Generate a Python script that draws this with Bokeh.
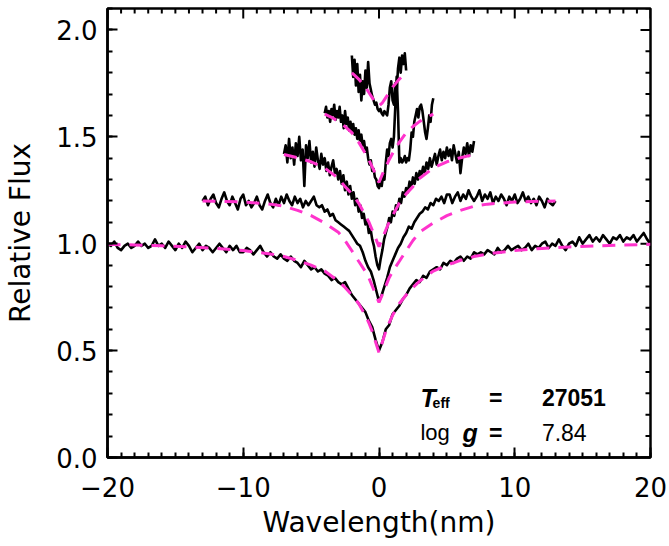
import numpy as np
from bokeh.plotting import figure
from bokeh.models import Range1d, Label, SingleIntervalTicker, PrintfTickFormatter
from bokeh.embed import file_html
from bokeh.resources import INLINE

# ---------------- data ----------------
# Observed spectra (relative flux, offsets included), uniform wavelength grids
s1_start, s1_stop = -20.0, 20.0
s1_flux = [
    1.00, 0.99, 1.01, 0.98, 0.97, 0.99, 1.00, 0.98,
    0.99, 1.01, 0.99, 1.00, 0.98, 0.99, 1.02, 0.99,
    1.00, 0.98, 1.01, 0.99, 0.97, 1.00, 0.98, 1.01,
    0.99, 0.96, 0.98, 1.00, 0.97, 0.99, 0.98, 0.96,
    0.98, 1.00, 0.98, 0.96, 0.99, 0.97, 0.99, 0.96,
    0.96, 0.98, 0.97, 0.95, 0.97, 0.99, 0.96, 0.94,
    0.96, 0.94, 0.93, 0.95, 0.93, 0.92, 0.94, 0.92,
    0.91, 0.89, 0.92, 0.90, 0.88, 0.89, 0.87, 0.88,
    0.86, 0.85, 0.83, 0.84, 0.82, 0.81, 0.82, 0.79,
    0.76, 0.74, 0.72, 0.70, 0.68, 0.64, 0.61, 0.55,
    0.50,
    0.54, 0.60, 0.62, 0.67, 0.69, 0.71, 0.74, 0.76,
    0.79, 0.81, 0.83, 0.82, 0.85, 0.84, 0.87, 0.88,
    0.89, 0.88, 0.91, 0.90, 0.92, 0.91, 0.93, 0.94,
    0.92, 0.94, 0.93, 0.96, 0.95, 0.96, 0.95, 0.97,
    0.96, 0.95, 0.98, 0.96, 0.97, 0.99, 0.97, 0.98,
    0.99, 0.97, 0.98, 1.00, 0.97, 0.99, 0.98, 1.00,
    1.01, 0.98, 1.00, 0.99, 1.02, 0.99, 0.97, 1.00,
    1.01, 0.99, 1.03, 1.00, 1.02, 1.04, 1.01, 1.03,
    1.01, 1.04, 1.02, 1.00, 1.03, 1.02, 1.04, 1.01,
    1.03, 1.02, 1.04, 1.01, 1.03, 1.05, 1.02, 1.00,
]

s2_start, s2_stop = -13.0, 13.0
s2_flux = [
    1.20, 1.22, 1.18, 1.21, 1.23, 1.19, 1.17, 1.21, 1.24, 1.20,
    1.18, 1.22, 1.19, 1.16, 1.21, 1.23, 1.18, 1.20, 1.17, 1.19,
    1.22, 1.18, 1.16, 1.20, 1.23, 1.19, 1.17, 1.21, 1.18, 1.22,
    1.19, 1.23, 1.20, 1.18, 1.22, 1.19, 1.21, 1.17, 1.20, 1.18,
    1.20, 1.22, 1.18, 1.17, 1.18, 1.15, 1.16, 1.13, 1.14, 1.11,
    1.10, 1.09, 1.08, 1.07, 1.06, 1.04, 1.02, 1.00, 0.99, 0.96,
    0.92, 0.89, 0.87, 0.83, 0.78,
    0.73,
    0.76, 0.80, 0.84, 0.89, 0.92,
    0.95, 0.98, 1.00, 1.03, 1.05, 1.08, 1.07, 1.10, 1.12, 1.14,
    1.15, 1.17, 1.16, 1.19, 1.18, 1.21, 1.20, 1.22, 1.19, 1.23,
    1.23, 1.19, 1.22, 1.24, 1.20, 1.23, 1.21, 1.25, 1.22, 1.20,
    1.22, 1.25, 1.20, 1.23, 1.21, 1.24, 1.19, 1.22, 1.20, 1.23,
    1.21, 1.18, 1.22, 1.20, 1.23, 1.19, 1.21, 1.24, 1.20, 1.22,
    1.19, 1.21, 1.18, 1.22, 1.20, 1.17, 1.21, 1.19, 1.18, 1.20,
]

s3_start, s3_stop = -7.0, 7.0
s3_flux = [
    1.42, 1.46, 1.38, 1.49, 1.40, 1.45, 1.37, 1.47,
    1.41, 1.50, 1.39, 1.44, 1.27, 1.46, 1.40, 1.48,
    1.38, 1.43, 1.36, 1.45, 1.39, 1.35, 1.42, 1.37,
    1.40, 1.34, 1.38, 1.32, 1.36, 1.39, 1.33, 1.35,
    1.30, 1.34, 1.28, 1.32, 1.25, 1.29, 1.23, 1.27,
    1.21, 1.24, 1.18, 1.21, 1.15, 1.18, 1.12, 1.14,
    1.09, 1.11, 1.05, 1.07, 1.02, 0.99, 0.94, 0.90,
    0.88,
    0.93, 0.97, 1.02, 1.05, 1.08, 1.12, 1.10, 1.15,
    1.13, 1.18, 1.16, 1.21, 1.19, 1.24, 1.22, 1.26,
    1.24, 1.29, 1.26, 1.31, 1.28, 1.33, 1.30, 1.34,
    1.32, 1.36, 1.33, 1.38, 1.35, 1.40, 1.36, 1.39,
    1.42, 1.37, 1.41, 1.44, 1.39, 1.43, 1.40, 1.45,
    1.41, 1.44, 1.39, 1.46, 1.42, 1.38, 1.43, 1.33,
    1.40, 1.45, 1.42, 1.47, 1.41, 1.46, 1.43, 1.48,
]

s4_start, s4_stop = -4.0, 4.0
s4_flux = [
    1.61, 1.64, 1.59, 1.62, 1.57, 1.63, 1.60, 1.65, 1.58, 1.62,
    1.59, 1.64, 1.57, 1.60, 1.54, 1.62, 1.56, 1.59, 1.53, 1.57,
    1.52, 1.56, 1.51, 1.54, 1.49, 1.53, 1.48, 1.51, 1.46, 1.48,
    1.43, 1.45, 1.40, 1.37, 1.39, 1.34, 1.35, 1.31, 1.30, 1.27,
    1.26,
    1.29, 1.27, 1.32, 1.30, 1.38, 1.44, 1.41, 1.47, 1.49, 1.45,
    1.50, 1.64, 1.78, 1.62, 1.38, 1.40, 1.38, 1.39, 1.41, 1.38,
    1.40, 1.39, 1.44, 1.52, 1.50, 1.57, 1.60, 1.63, 1.59, 1.64,
    1.65, 1.62, 1.57, 1.52, 1.49, 1.54, 1.60, 1.57, 1.65, 1.68,
]

s5_start, s5_stop = -2.0, 2.0
s5_flux = [
    1.88, 1.78, 1.86, 1.74, 1.84, 1.71, 1.79, 1.67, 1.76, 1.70,
    1.81, 1.73, 1.85, 1.75, 1.72, 1.69, 1.67, 1.65, 1.66, 1.63,
    1.62,
    1.63, 1.61, 1.60, 1.62, 1.61, 1.60, 1.65, 1.73, 1.76, 1.67,
    1.65, 1.75, 1.71, 1.82, 1.87, 1.80, 1.88, 1.84, 1.89, 1.81,
]

# Model fits (symmetric profiles): distance from line centre and flux
m1_dx = [0, 0.25, 0.5, 0.75, 1, 1.5, 2, 2.5, 3, 4, 5, 6, 7, 8, 10, 12, 14, 16, 18, 20]
m1_f = [0.49, 0.54, 0.59, 0.63, 0.665, 0.72, 0.76, 0.795, 0.825, 0.872, 0.90, 0.922,
        0.94, 0.952, 0.968, 0.978, 0.985, 0.99, 0.994, 0.997]
m2_dx = [0, 0.25, 0.5, 0.75, 1, 1.5, 2, 2.5, 3, 4, 5, 6, 7, 8, 10, 13]
m2_f = [0.725, 0.763, 0.802, 0.841, 0.87, 0.918, 0.967, 1.015, 1.054, 1.097, 1.131,
        1.156, 1.175, 1.185, 1.195, 1.20]
m3_dx = [0, 0.25, 0.5, 0.75, 1, 1.5, 2, 2.5, 3, 4, 5, 6, 7]
m3_f = [0.986, 1.025, 1.064, 1.102, 1.131, 1.19, 1.233, 1.267, 1.306, 1.354, 1.383,
        1.402, 1.417]
m4_dx = [0, 0.25, 0.5, 0.75, 1, 1.5, 2, 2.5, 3, 3.5, 4]
m4_f = [1.286, 1.325, 1.359, 1.393, 1.422, 1.475, 1.519, 1.548, 1.572, 1.591, 1.606]
m5_dx = [0, 0.25, 0.5, 0.75, 1, 1.25, 1.5, 1.75, 2]
m5_f = [1.645, 1.659, 1.683, 1.707, 1.732, 1.751, 1.77, 1.785, 1.799]

teff_text = "27051"
logg_text = "7.84"

x_lim = (-20.0, 20.0)
y_lim = (0.0, 2.1)
x_major_step, x_minor_step = 10.0, 1.0
y_major_step, y_minor_step = 0.5, 0.1

# ---------------- figure ----------------
W, H = 669, 546
ML, MR, MT, MB = 107, 19, 8, 89
p = figure(width=W, height=H, output_backend="svg", toolbar_location=None,
           x_range=Range1d(*x_lim), y_range=Range1d(*y_lim),
           min_border_left=ML, min_border_right=MR, min_border_top=MT,
           min_border_bottom=MB)
p.background_fill_color = "white"
p.border_fill_color = "white"
p.outline_line_color = "black"
p.outline_line_width = 2.5
p.xgrid.visible = False
p.ygrid.visible = False

FONT = "DejaVu Sans"
MAJ_LEN, MIN_LEN = 10, 5

for ax in (p.xaxis[0], p.yaxis[0]):
    ax.axis_line_color = "black"
    ax.axis_line_width = 2.5
    ax.major_tick_in = MAJ_LEN
    ax.major_tick_out = 0
    ax.minor_tick_in = MIN_LEN
    ax.minor_tick_out = 0
    ax.major_tick_line_width = 2
    ax.minor_tick_line_width = 2
    ax.major_tick_line_color = "black"
    ax.minor_tick_line_color = "black"
    ax.major_label_text_font = FONT
    ax.major_label_text_font_size = "26px"
    ax.major_label_text_color = "black"
    ax.axis_label_text_font = FONT
    ax.axis_label_text_font_size = "28px"
    ax.axis_label_text_font_style = "normal"
    ax.axis_label_text_color = "black"

p.xaxis.ticker = SingleIntervalTicker(interval=x_major_step, num_minor_ticks=10)
p.yaxis.ticker = SingleIntervalTicker(interval=y_major_step, num_minor_ticks=5)
p.yaxis.formatter = PrintfTickFormatter(format="%.1f")
p.xaxis.axis_label = "Wavelength(nm)"
p.yaxis.axis_label = "Relative Flux"
p.xaxis.major_label_overrides = {-20: "\u221220", -10: "\u221210"}
p.xaxis.major_label_standoff = 19
p.xaxis.axis_label_standoff = 6
p.yaxis.major_label_standoff = 10
p.yaxis.axis_label_standoff = 16

# ticks on the top and right edges of the box (derived from the tick steps)
frame_w = W - ML - MR
frame_h = H - MT - MB
px_x = frame_w / (x_lim[1] - x_lim[0])
px_y = frame_h / (y_lim[1] - y_lim[0])

xt_all = np.arange(x_lim[0], x_lim[1] + 1e-9, x_minor_step)
yt_all = np.arange(0.0, y_lim[1] + 1e-9, y_minor_step)
def is_major(v, step):
    return abs(v / step - round(v / step)) < 1e-6
x_len = np.array([MAJ_LEN if is_major(v, x_major_step) else MIN_LEN for v in xt_all]) / px_y
y_len = np.array([MAJ_LEN if is_major(v, y_major_step) else MIN_LEN for v in yt_all]) / px_x
p.segment(x0=xt_all, y0=np.full(len(xt_all), y_lim[1]), x1=xt_all, y1=y_lim[1] - x_len,
          line_color="black", line_width=2)
p.segment(x0=np.full(len(yt_all), x_lim[1]), y0=yt_all, x1=x_lim[1] - y_len, y1=yt_all,
          line_color="black", line_width=2)

BLACK_W = 2.6
PINK = "#FF33CC"

spectra = [
    (s1_start, s1_stop, s1_flux),
    (s2_start, s2_stop, s2_flux),
    (s3_start, s3_stop, s3_flux),
    (s4_start, s4_stop, s4_flux),
    (s5_start, s5_stop, s5_flux),
]
for a, b, f in spectra:
    xs = np.linspace(a, b, len(f))
    p.line(xs, f, line_color="black", line_width=BLACK_W, line_join="round")

models = [(m1_dx, m1_f), (m2_dx, m2_f), (m3_dx, m3_f), (m4_dx, m4_f), (m5_dx, m5_f)]
for dx, f in models:
    dx = np.asarray(dx, dtype=float)
    f = np.asarray(f, dtype=float)
    xs = np.concatenate([-dx[::-1], dx[1:]])
    ys = np.concatenate([f[::-1], f[1:]])
    p.line(xs, ys, line_color=PINK, line_width=3, line_dash="13 9")

# ---------------- annotations ----------------
TF = "Liberation Sans"
def add_label(x, y, text, size, style="bold", align="left"):
    p.add_layout(Label(x=x, y=y, text=text, text_font=TF, text_font_size=size,
                       text_font_style=style, text_align=align,
                       text_baseline="middle", text_color="black"))

add_label(3.05, 0.28, "T", "25px", "bold italic")
add_label(3.95, 0.255, "eff", "14px", "bold")
add_label(8.6, 0.28, "=", "23px", "bold", "center")
add_label(12.0, 0.28, teff_text, "23px", "bold")
add_label(3.05, 0.116, "log", "22px", "normal")
add_label(6.15, 0.116, "g", "25px", "bold italic")
add_label(8.6, 0.116, "=", "23px", "bold", "center")
add_label(12.0, 0.116, logg_text, "23px", "normal")

open("out.html", "w").write(file_html(p, INLINE))
